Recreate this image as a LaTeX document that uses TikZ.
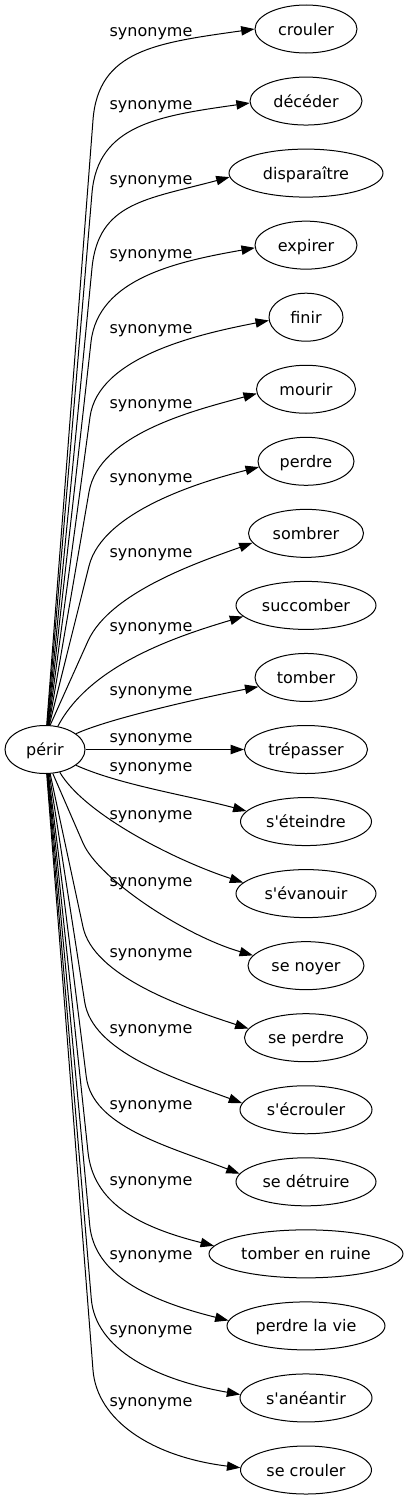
\documentclass[tikz,border=0pt]{standalone}
\usepackage{fontspec}
\setmainfont{DejaVu Sans}
\usetikzlibrary{shapes.geometric,arrows.meta,calc}
\begin{document}
\begin{tikzpicture}[x=0.75pt,y=-0.75pt,
  word/.style={ellipse,draw,line width=0.75pt,inner sep=0pt,minimum height=36pt,
    font=\fontsize{12pt}{14pt}\selectfont,text height=9.1pt,text depth=0pt},
  lab/.style={inner sep=0pt,font=\fontsize{12pt}{14pt}\selectfont,text height=9.1pt,text depth=0pt},
  edge/.style={line width=0.75pt,-{Triangle[length=10pt,width=7pt]}}]
\useasboundingbox (0,0) rectangle (408,1499);
\node[word,minimum width=60pt] (perir) at (45,749.5) {périr};
\node[word,minimum width=76.5pt] (n0) at (306,29) {crouler};
\node[word,minimum width=84pt] (n1) at (306,101.05) {décéder};
\node[word,minimum width=115.5pt] (n2) at (306,173.1) {disparaître};
\node[word,minimum width=76.5pt] (n3) at (306,245.15) {expirer};
\node[word,minimum width=55.5pt] (n4) at (306,317.2) {finir};
\node[word,minimum width=74.25pt] (n5) at (306,389.25) {mourir};
\node[word,minimum width=72pt] (n6) at (306,461.3) {perdre};
\node[word,minimum width=86.25pt] (n7) at (306,533.35) {sombrer};
\node[word,minimum width=105pt] (n8) at (306,605.4) {succomber};
\node[word,minimum width=76.5pt] (n9) at (306,677.45) {tomber};
\node[word,minimum width=92.25pt] (n10) at (306,749.5) {trépasser};
\node[word,minimum width=98.25pt] (n11) at (306,821.55) {s\textquotesingle éteindre};
\node[word,minimum width=105pt] (n12) at (306,893.6) {s\textquotesingle évanouir};
\node[word,minimum width=87pt] (n13) at (306,965.65) {se noyer};
\node[word,minimum width=92.25pt] (n14) at (306,1037.7) {se perdre};
\node[word,minimum width=99pt] (n15) at (306,1109.75) {s\textquotesingle écrouler};
\node[word,minimum width=105pt] (n16) at (306,1181.8) {se détruire};
\node[word,minimum width=145.5pt] (n17) at (306,1253.85) {tomber en ruine};
\node[word,minimum width=118.5pt] (n18) at (306,1325.9) {perdre la vie};
\node[word,minimum width=99pt] (n19) at (306,1397.95) {s\textquotesingle anéantir};
\node[word,minimum width=98.25pt] (n20) at (306,1470) {se crouler};
% labels
\node[lab] (l0) at (151,30) {synonyme};
\node[lab] (l1) at (151,103) {synonyme};
\node[lab] (l2) at (151,178) {synonyme};
\node[lab] (l3) at (151,252) {synonyme};
\node[lab] (l4) at (151,327) {synonyme};
\node[lab] (l5) at (151,402) {synonyme};
\node[lab] (l6) at (151,476) {synonyme};
\node[lab] (l7) at (151,551) {synonyme};
\node[lab] (l8) at (151,625) {synonyme};
\node[lab] (l9) at (151,689) {synonyme};
\node[lab] (l10) at (151,736) {synonyme};
\node[lab] (l11) at (151,765) {synonyme};
\node[lab] (l12) at (151,813) {synonyme};
\node[lab] (l13) at (151,880) {synonyme};
\node[lab] (l14) at (151,951) {synonyme};
\node[lab] (l15) at (151,1027) {synonyme};
\node[lab] (l16) at (151,1103) {synonyme};
\node[lab] (l17) at (151,1179) {synonyme};
\node[lab] (l18) at (151,1253) {synonyme};
\node[lab] (l19) at (151,1328) {synonyme};
\node[lab] (l20) at (151,1400) {synonyme};
% edges upward
\draw[edge] (perir.86) -- (93,120) .. controls ($(93,120)!-52.5pt!(perir.86)$) and ($(n0.180)+(-99,13.9)$) .. (n0.180);
\draw[edge] (perir.85) -- (92,193) .. controls ($(92,193)!-51pt!(perir.85)$) and ($(n1.182)+(-92.1,12.9)$) .. (n1.182);
\draw[edge] (perir.84) -- (92,268) .. controls ($(92,268)!-49.5pt!(perir.84)$) and ($(n2.183)+(-83.1,22.3)$) .. (n2.183);
\draw[edge] (perir.83) -- (91,342) .. controls ($(91,342)!-48pt!(perir.83)$) and ($(n3.183)+(-77.8,13.7)$) .. (n3.183);
\draw[edge] (perir.82) -- (90,417) .. controls ($(90,417)!-45.75pt!(perir.82)$) and ($(n4.185)+(-69.7,13.5)$) .. (n4.185);
\draw[edge] (perir.81) -- (89,492) .. controls ($(89,492)!-44.25pt!(perir.81)$) and ($(n5.185)+(-61.8,16.6)$) .. (n5.185);
\draw[edge] (perir.80) -- (89,566) .. controls ($(89,566)!-42.75pt!(perir.80)$) and ($(n6.187)+(-55.3,13.8)$) .. (n6.187);
\draw[edge] (perir.78) -- (88,641) .. controls ($(88,641)!-41.25pt!(perir.78)$) and ($(n7.190)+(-47,17.1)$) .. (n7.190);
\draw[edge] (perir.61) .. controls (90,665) and ($(n8.190)+(-67,20)$) .. (n8.190);
\draw[edge] (perir.27) .. controls (110,718) and ($(n9.191)+(-49,9.5)$) .. (n9.191);
\draw[edge] (perir.east) -- (n10.west);
% edges downward
\draw[edge] (perir.333) .. controls (120,785) and ($(n11.170)+(-58,-15.5)$) .. (n11.170);
\draw[edge] (perir.303) .. controls (85,815) and ($(n12.170)+(-66.5,-21.6)$) .. (n12.170);
\draw[edge] (perir.288) -- (83,843) .. controls ($(83,843)!-30pt!(perir.288)$) and ($(n13.169)+(-67.3,-19.3)$) .. (n13.169);
\draw[edge] (perir.282) -- (83,927) .. controls ($(83,927)!-37.5pt!(perir.282)$) and ($(n14.171)+(-66.6,-21.6)$) .. (n14.171);
\draw[edge] (perir.280) -- (84.7,1002) .. controls ($(84.7,1002)!-37.5pt!(perir.280)$) and ($(n15.174)+(-68.6,-25)$) .. (n15.174);
\draw[edge] (perir.278) -- (86.3,1077) .. controls ($(86.3,1077)!-37.5pt!(perir.278)$) and ($(n16.173)+(-71.9,-27.6)$) .. (n16.173);
\draw[edge] (perir.277) -- (88,1152) .. controls ($(88,1152)!-37.5pt!(perir.277)$) and ($(n17.175)+(-77.6,-19.4)$) .. (n17.175);
\draw[edge] (perir.276) -- (89.7,1225) .. controls ($(89.7,1225)!-37.5pt!(perir.276)$) and ($(n18.176)+(-80.5,-20.1)$) .. (n18.176);
\draw[edge] (perir.275) -- (91.3,1299) .. controls ($(91.3,1299)!-37.5pt!(perir.275)$) and ($(n19.177)+(-85.7,-15.1)$) .. (n19.177);
\draw[edge] (perir.274) -- (93,1370) .. controls ($(93,1370)!-37.5pt!(perir.274)$) and ($(n20.178)+(-89.3,-11)$) .. (n20.178);
\end{tikzpicture}
\end{document}
